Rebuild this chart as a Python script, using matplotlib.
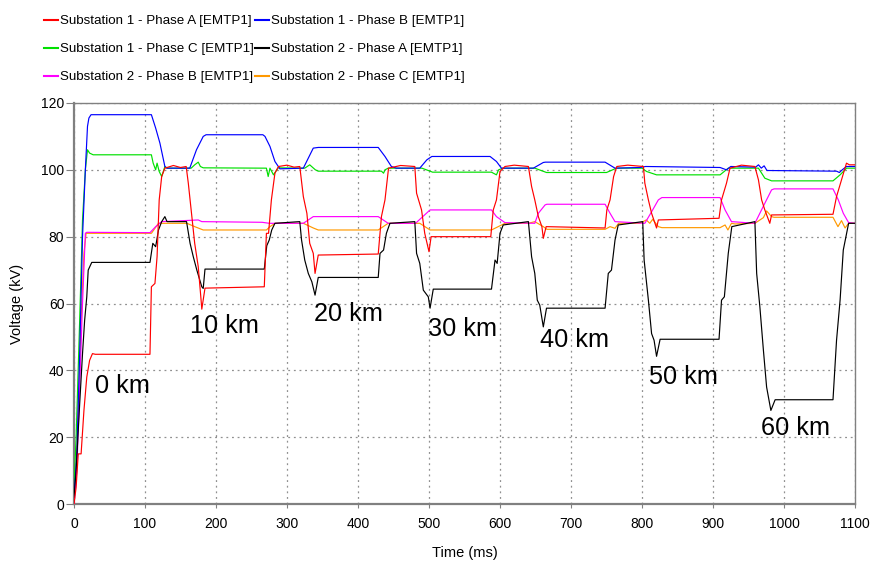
import numpy as np
import matplotlib
matplotlib.use('Agg')
from matplotlib import pyplot as plt
from matplotlib.lines import Line2D

plt.rcParams['font.family'] = ['Liberation Sans', 'DejaVu Sans']

# (time ms, voltage kV) breakpoints
s1_phase_a = [(0, 0), (3, 5), (6, 15), (10, 15), (14, 28), (18, 38), (22, 43), (26, 45), (30, 44.8),
              (107, 44.8), (109, 65), (114, 66), (117, 74), (120, 91), (123.5, 98), (128, 100.5),
              (140, 101.3), (150, 100.7), (158, 101), (161, 96), (166, 86), (170, 78), (175, 71),
              (179, 61), (180, 58.3), (184.5, 64.6), (268, 65), (271, 81), (274, 81), (278, 91),
              (283, 99), (288, 101), (300, 101.4), (310, 100.8), (318, 101), (323, 92), (328, 87),
              (332, 78), (337, 75), (339.5, 69), (344, 74.5), (428.5, 74.8), (433, 86), (438, 91),
              (443, 100.5), (460, 101.3), (480, 101), (482.5, 93), (489.5, 88), (494, 81),
              (500, 75.5), (503, 80), (587, 80), (590.5, 88), (595, 91), (600, 99.5), (607, 101),
              (620, 101.4), (640, 101), (644.5, 95), (649, 91), (654, 86), (659, 83), (661, 79.5),
              (665, 83), (748, 82.6), (750.5, 88), (755, 91), (760, 98), (764.5, 101), (780, 101.4),
              (802, 101), (804, 96), (809, 91), (813.5, 87), (820.5, 82.6), (823, 85), (908.5, 85.5),
              (912, 91), (919, 96), (924, 100.5), (940, 101.4), (959, 101), (964, 97), (968.5, 91),
              (973, 88), (980, 84), (982.5, 86.5), (1069, 86.7), (1074, 92), (1081, 97),
              (1088, 102), (1092, 101.5), (1100, 101.5)]

s1_phase_b = [(0, 2), (4, 15), (8, 45), (12, 80), (16, 100), (19, 113), (21, 115.5), (24, 116.5),
              (109, 116.5), (115, 112.5), (121, 108), (128, 101), (131, 100.5), (163, 100.5),
              (172.5, 106), (182, 110), (186, 110.5), (266, 110.5), (269, 110), (276, 107),
              (283, 102.5), (290, 100.3), (323, 100.5), (337, 106.5), (344, 106.7), (428.5, 106.7),
              (438, 104), (447, 101), (454, 100.5), (487, 100.5), (497, 103), (504, 104), (586, 104),
              (595, 102.5), (602, 100.5), (647, 100.5), (661, 102.2), (664, 102.3), (748, 102.3),
              (762, 100.5), (797, 100.7), (805, 101), (910, 100.7), (919, 100), (925, 101),
              (960, 100.8), (964, 101.5), (968, 100.5), (972, 101.2), (976, 99.8), (1074, 99.6),
              (1078, 99.2), (1082, 100), (1088, 101), (1100, 101)]

s1_phase_c = [(0, 5), (3, 20), (8, 55), (12, 85), (16, 100), (19, 106), (22, 105), (27, 104.5),
              (109, 104.5), (111.5, 102), (115, 100), (117, 102), (120, 99.5), (123.5, 98), (128, 101),
              (131, 100.5), (165, 100.5), (170, 101.5), (175, 102.3), (178, 101), (182, 100.6),
              (271, 100.5), (273.5, 98), (276, 100.5), (281, 98.5), (287.5, 100.6), (325, 100.5),
              (332, 101.5), (340, 100), (344, 99.6), (433, 99.6), (436, 99), (438, 100), (442.5, 100.5),
              (490, 100.5), (501.5, 99.6), (505, 99.3), (588, 99.3), (595, 98.5), (598, 100),
              (604, 100.5), (649, 100.5), (665.5, 99.2), (750, 99.2), (764, 100.5), (800, 100.5),
              (806.5, 99.5), (820.5, 98.5), (910, 98.5), (921.5, 100.5), (964, 100.5), (973, 97.5),
              (982.5, 96.7), (1069, 96.7), (1079, 98.5), (1088, 100.5), (1100, 100.5)]

s2_phase_a = [(0, 2), (3, 10), (8, 30), (12, 45), (15, 55), (18, 62), (20, 70), (25, 72.3), (107, 72.3),
              (111, 78), (115, 77), (119, 82), (123.5, 84.5), (128, 86), (131, 84.5), (158.5, 84.5),
              (163.5, 78), (168, 74), (173, 70), (180, 65), (182, 64.5), (184.5, 70.3), (268, 70.3),
              (271.5, 77.3), (275, 79), (278.5, 82), (283, 84), (318, 84.5), (320.5, 79), (325, 73),
              (330, 69), (335, 66.5), (339.5, 62.5), (344, 67.8), (428.5, 67.8), (431, 75), (436, 76),
              (440, 81), (445, 84), (480, 84.5), (482.5, 75), (487, 72), (492, 64), (499, 62),
              (501.5, 58.6), (506, 64.3), (588, 64.3), (593, 73), (596, 72), (600, 81), (604.5, 83.5),
              (640, 84.5), (644.5, 74), (649, 69), (652.5, 61), (656, 59.5), (661, 53), (665.5, 58.6),
              (748, 58.6), (752.5, 69), (757, 70), (762, 79), (766.5, 83.5), (801, 84.5), (803, 73),
              (809, 61), (813.5, 51), (817, 49), (820.5, 44.2), (825.5, 49.3), (908.5, 49.3), (912, 61),
              (916, 62), (921.5, 75), (926.5, 83), (959, 84.5), (961.5, 69), (966, 59), (971, 46),
              (975.5, 35), (981.5, 28), (987.5, 31.2), (1069, 31.2), (1074, 49), (1079, 61),
              (1083.5, 76), (1091, 84), (1100, 84)]

s2_phase_b = [(0, 0), (4, 10), (8, 35), (12, 60), (16, 81), (18, 81.3), (107, 81.2), (115, 83),
              (123.5, 84.5), (175, 85), (180, 84.5), (265, 84.3), (275, 84), (323, 84), (337, 86),
              (428.5, 86), (442.5, 84), (481, 84), (501.5, 88), (588, 88), (595, 86), (607, 84.2),
              (649, 84), (654, 87), (663.5, 89.5), (666, 89.7), (748, 89.7), (755, 87), (762, 84.5),
              (804, 84), (815, 88), (823, 91), (828, 91.7), (910, 91.7), (917, 88), (926, 84.5),
              (959, 84), (973, 90), (982.5, 94), (986, 94.3), (1069, 94.3), (1076.5, 91), (1083.5, 87),
              (1091, 84.2), (1100, 84)]

s2_phase_c = [(0, 0), (4, 15), (10, 55), (14, 75), (17, 81), (109, 81), (119, 84), (159, 84), (170, 83),
              (182, 82), (271, 82), (276, 83), (283, 84), (323, 84), (337, 82.6), (344, 82), (428.5, 82),
              (442.5, 84), (487, 84), (501.5, 82), (588, 82), (597.5, 83), (607, 84), (640, 84),
              (649, 84.5), (661, 83), (666, 82.2), (748, 82.2), (755, 83), (762, 82.5), (767, 84),
              (797, 84), (806, 85), (811, 84), (815, 85.2), (823, 83), (828, 82.7), (910, 82.7),
              (917, 83.5), (921, 82), (926, 84), (931, 83.8), (959, 84), (971, 85.7), (975.5, 87.7),
              (982.5, 86), (986, 85.8), (1069, 85.8), (1076, 83), (1081, 84.8), (1086, 82.6),
              (1091, 84), (1100, 84)]

series_labels = ['Substation 1 - Phase A [EMTP1]', 'Substation 1 - Phase B [EMTP1]',
                 'Substation 1 - Phase C [EMTP1]', 'Substation 2 - Phase A [EMTP1]',
                 'Substation 2 - Phase B [EMTP1]', 'Substation 2 - Phase C [EMTP1]']
series_colors = ['#ff0000', '#0000ff', '#00e000', '#000000', '#ff00ff', '#ff9900']
series_data = [s1_phase_a, s1_phase_b, s1_phase_c, s2_phase_a, s2_phase_b, s2_phase_c]

distance_labels = ['0 km', '10 km', '20 km', '30 km', '40 km', '50 km', '60 km']
label_t = [29, 163, 338, 498, 657, 810, 968]
label_v = [35.3, 53.3, 56.9, 52.4, 49.1, 38, 22.8]

fig = plt.figure(figsize=(8.8, 5.63), dpi=100)
ax = fig.add_axes([74 / 880, 59 / 563, 781 / 880, 401 / 563])

# draw orange/magenta/green first so red and black sit on top like the original
draw_order = [5, 4, 2, 1, 3, 0]
for i in draw_order:
    t, v = np.array(series_data[i]).T
    ax.plot(t, v, color=series_colors[i], lw=0.85, zorder=3 + draw_order.index(i))

for txt, t, v in zip(distance_labels, label_t, label_v):
    ax.text(t, v, txt, fontsize=18.2, ha='left', va='center', zorder=10)

ax.set_xlim(0, 1100)
ax.set_ylim(0, 120)
ax.set_xticks(np.arange(0, 1101, 100))
ax.set_yticks(np.arange(0, 121, 20))
ax.grid(True, color='#909090', linestyle=(0, (1.5, 3)), lw=0.9)
ax.tick_params(axis='x', direction='out', length=3, color='#808080', labelsize=10, pad=6)
ax.tick_params(axis='y', direction='out', length=6, color='#808080', labelsize=10, pad=1)
for side in ['left', 'bottom']:
    ax.spines[side].set_color('#808080')
    ax.spines[side].set_linewidth(1.6)
for side in ['top', 'right']:
    ax.spines[side].set_color('#808080')
    ax.spines[side].set_linewidth(1.0)

ax.set_xlabel('Time (ms)', fontsize=10.5, labelpad=11)
ax.set_ylabel('Voltage (kV)', fontsize=10.5, labelpad=12)

# legend reads row by row in the original, matplotlib fills columns first
handles = [Line2D([], [], color=c, lw=1.5) for c in series_colors]
order = [0, 2, 4, 1, 3, 5]
fig.legend([handles[i] for i in order], [series_labels[i] for i in order],
           ncol=2, loc='upper left', bbox_to_anchor=(44 / 880, 1 - 15 / 563),
           frameon=False, fontsize=9.6, handlelength=1.05, handletextpad=0.15,
           columnspacing=0.1, labelspacing=1.18, borderpad=0, borderaxespad=0)

fig.savefig('out.png', dpi=100)
